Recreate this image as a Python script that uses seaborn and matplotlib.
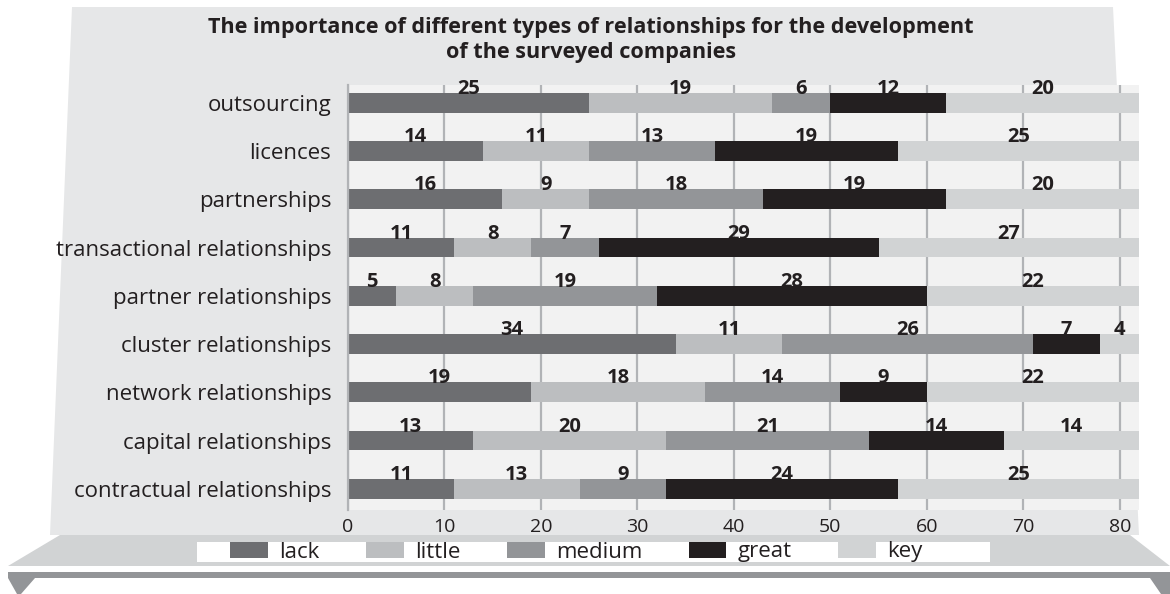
import numpy as np
import pandas as pd
import matplotlib
matplotlib.use('Agg')
import matplotlib.pyplot as plt
from matplotlib.patches import Polygon, Patch
import seaborn as sns

CATEGORIES = ['outsourcing', 'licences', 'partnerships', 'transactional relationships',
              'partner relationships', 'cluster relationships', 'network relationships',
              'capital relationships', 'contractual relationships']
SERIES = ['lack', 'little', 'medium', 'great', 'key']
LACK = [25, 14, 16, 11, 5, 34, 19, 13, 11]
LITTLE = [19, 11, 9, 8, 8, 11, 18, 20, 13]
MEDIUM = [6, 13, 18, 7, 19, 26, 14, 21, 9]
GREAT = [12, 19, 19, 29, 28, 7, 9, 14, 24]
KEY = [20, 25, 20, 27, 22, 4, 22, 14, 25]
XTICKS = [0, 10, 20, 30, 40, 50, 60, 70, 80]
TITLE = 'The importance of different types of relationships for the development\nof the surveyed companies'

COLORS = ['#6d6e71', '#bcbec0', '#939598', '#231f20', '#d1d3d4']
W, H = 1170, 594
MAIN = ['Open Sans', 'DejaVu Sans']


def fx(px):
    return px / W


def fy(py):
    return 1 - py / H


def poly(pts, color):
    return Polygon([(fx(x), fy(y)) for x, y in pts], closed=True,
                   transform=fig.transFigure, facecolor=color, edgecolor='none', zorder=-5)


fig = plt.figure(figsize=(W / 100, H / 100), dpi=100)
fig.patch.set_facecolor('white')

# background "stage"
fig.patches.append(poly([(72, 7), (1113, 7), (1139, 535), (50, 535)], '#e6e7e8'))
fig.patches.append(poly([(60, 535), (1130, 535), (1170, 566), (8, 566)], '#d1d3d4'))
fig.patches.append(poly([(8, 572), (1170, 572), (1170, 578), (8, 578)], '#939598'))
fig.patches.append(poly([(8, 578), (35, 578), (21, 594), (17, 594)], '#939598'))
fig.patches.append(poly([(1150, 578), (1170, 578), (1170, 594), (1161, 594)], '#939598'))
fig.patches.append(poly([(197, 542), (990, 542), (990, 562), (197, 562)], 'white'))

ax = fig.add_axes([fx(348), fy(510), fx(1139) - fx(348), fy(85) - fy(510)])
ax.set_zorder(1)
ax.set_facecolor('#f2f2f2')

df = pd.DataFrame({'category': CATEGORIES, 'lack': LACK, 'little': LITTLE,
                   'medium': MEDIUM, 'great': GREAT, 'key': KEY})
cum = df[SERIES].cumsum(axis=1)

# stacked bars: draw cumulative totals from the longest down
for s, c in reversed(list(zip(SERIES, COLORS))):
    sns.barplot(x=cum[s], y=df['category'], orient='h', color=c, saturation=1,
                width=0.41, ax=ax, zorder=2)

# value labels above each segment
for i in range(len(CATEGORIES)):
    start = 0
    for s in SERIES:
        v = df.loc[i, s]
        ax.text(start + v / 2, i - 0.185, str(v), ha='center', va='baseline',
                fontsize=14.5, fontweight='bold', color='#231f20', family=MAIN, zorder=3)
        start += v

ax.set_xlim(0, 82)
ax.set_ylim(8.44, -0.37)
ax.set_xticks(XTICKS)
ax.set_xlabel('')
ax.set_ylabel('')
ax.grid(axis='x', color='#b1b3b6', lw=1.6, zorder=1)
ax.grid(axis='y', visible=False)
ax.set_axisbelow(True)
for side in ['top', 'right', 'bottom']:
    ax.spines[side].set_visible(False)
ax.spines['left'].set_color('#b1b3b6')
ax.spines['left'].set_linewidth(1.6)
ax.tick_params(axis='both', length=0)
ax.tick_params(axis='y', pad=12, labelsize=16, labelcolor='#231f20')
ax.tick_params(axis='x', pad=6, labelsize=14, labelcolor='#231f20')
for t in ax.get_yticklabels() + ax.get_xticklabels():
    t.set_family(MAIN)

fig.text(fx(591), fy(40), TITLE, ha='center', va='center', fontsize=15.6,
         fontweight='bold', color='#231f20', family=MAIN, linespacing=1.25)

handles = [Patch(facecolor=c, edgecolor='none') for c in COLORS]
fig.legend(handles, SERIES, ncol=5, loc='center left', bbox_to_anchor=(fx(230), fy(552)),
           frameon=False, prop={'family': MAIN, 'size': 16}, handlelength=1.7,
           handleheight=0.7, handletextpad=0.5, columnspacing=2.1, labelcolor='#231f20',
           borderaxespad=0, borderpad=0)

fig.savefig('out.png', dpi=100)
